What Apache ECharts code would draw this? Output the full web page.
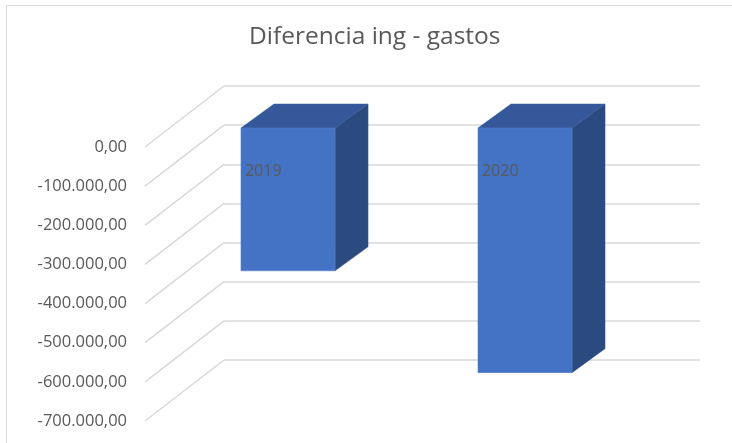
<!DOCTYPE html>
<html>
<head>
<meta charset="utf-8">
<script src="https://cdn.jsdelivr.net/npm/echarts@6/dist/echarts.min.js"></script>
<style>
html,body{margin:0;padding:0;background:#fff;}
#chart{width:732px;height:443px;}
</style>
</head>
<body>
<div id="chart"></div>
<script>
const titleText = 'Diferencia ing - gastos';
const categories = ['2019', '2020'];
const values = [-365000, -625000];
const yTicks = [0, -100000, -200000, -300000, -400000, -500000, -600000, -700000];
const yTickLabels = ['0,00', '-100.000,00', '-200.000,00', '-300.000,00', '-400.000,00', '-500.000,00', '-600.000,00', '-700.000,00'];

const FONT = 'Open Sans';
const TXT = '#595959';
const GRIDC = '#d9d9d9';
// depth of the floor/wall (front plane -> back wall)
const WALL_DX = 79, WALL_DY = -61;
// bar placement in depth
const BAR_FX = 24.5, BAR_FY = -19, BAR_DX = 33, BAR_DY = -24, BAR_RATIO = 0.397;

const chart = echarts.init(document.getElementById('chart'));

const yAxisBase = {
  type: 'value', min: -700000, max: 0, interval: 100000,
  axisLine: {show: false}, axisTick: {show: false}
};

chart.setOption({
  backgroundColor: '#ffffff',
  animation: false,
  title: {
    text: titleText,
    left: 249, top: 25, padding: 0,
    textStyle: {fontFamily: FONT, fontSize: 24.5, fontWeight: 'normal', color: TXT}
  },
  graphic: [{
    type: 'rect', silent: true, z: -10,
    shape: {x: 6.5, y: 5.5, width: 800, height: 600},
    style: {fill: null, stroke: GRIDC, lineWidth: 1}
  }],
  grid: [
    {left: 145, top: 147, width: 474, height: 274},
    {left: 224, top: 86, width: 476, height: 274}
  ],
  xAxis: [
    {type: 'category', data: categories, gridIndex: 0, show: false},
    {type: 'category', data: categories, gridIndex: 1, show: false}
  ],
  yAxis: [
    Object.assign({}, yAxisBase, {
      gridIndex: 0,
      splitLine: {show: false},
      axisLabel: {
        margin: 18, color: TXT, fontFamily: FONT, fontSize: 16.5,
        formatter: function (v) {
          const idx = yTicks.indexOf(v);
          return idx >= 0 ? yTickLabels[idx] : '';
        }
      }
    }),
    Object.assign({}, yAxisBase, {
      gridIndex: 1,
      axisLabel: {show: false},
      splitLine: {show: true, lineStyle: {color: GRIDC, width: 1.5}}
    })
  ],
  series: [
    {
      type: 'custom', xAxisIndex: 0, yAxisIndex: 0, silent: true,
      data: yTicks.map(v => [0, v]),
      renderItem: function (params, api) {
        const p = api.coord([0, api.value(1)]);
        const x0 = params.coordSys.x;
        return {
          type: 'line',
          shape: {x1: x0, y1: p[1], x2: x0 + WALL_DX, y2: p[1] + WALL_DY},
          style: {stroke: GRIDC, lineWidth: 1.5}
        };
      }
    },
    {
      type: 'custom', xAxisIndex: 0, yAxisIndex: 0, silent: true,
      data: values.map((v, i) => [i, v]),
      renderItem: function (params, api) {
        const i = api.value(0), v = api.value(1);
        const top = api.coord([i, 0]);
        const bot = api.coord([i, v]);
        const bw = api.size([1, 0])[0] * BAR_RATIO;
        const x0 = top[0] - bw / 2 + BAR_FX;
        const x1 = x0 + bw;
        const yT = top[1] + BAR_FY;
        const yB = bot[1] + BAR_FY;
        return {
          type: 'group',
          children: [
            {type: 'polygon', shape: {points: [[x0, yT], [x0 + BAR_DX, yT + BAR_DY], [x1 + BAR_DX, yT + BAR_DY], [x1, yT]]},
             style: {fill: '#34589a', stroke: '#3d63a6', lineWidth: 0.5}},
            {type: 'polygon', shape: {points: [[x1, yT], [x1 + BAR_DX, yT + BAR_DY], [x1 + BAR_DX, yB + BAR_DY], [x1, yB]]},
             style: {fill: '#2b4a7f', stroke: '#34589a', lineWidth: 0.5}},
            {type: 'rect', shape: {x: x0, y: yT, width: bw, height: yB - yT},
             style: {fill: '#4472c4', stroke: '#5a82c9', lineWidth: 0.5}},
            {type: 'text', style: {
              text: categories[i], x: x0 + 4, y: yT + 43,
              verticalAlign: 'middle', align: 'left',
              fill: TXT, fontFamily: FONT, fontSize: 16
            }}
          ]
        };
      }
    }
  ]
});
</script>
</body>
</html>
